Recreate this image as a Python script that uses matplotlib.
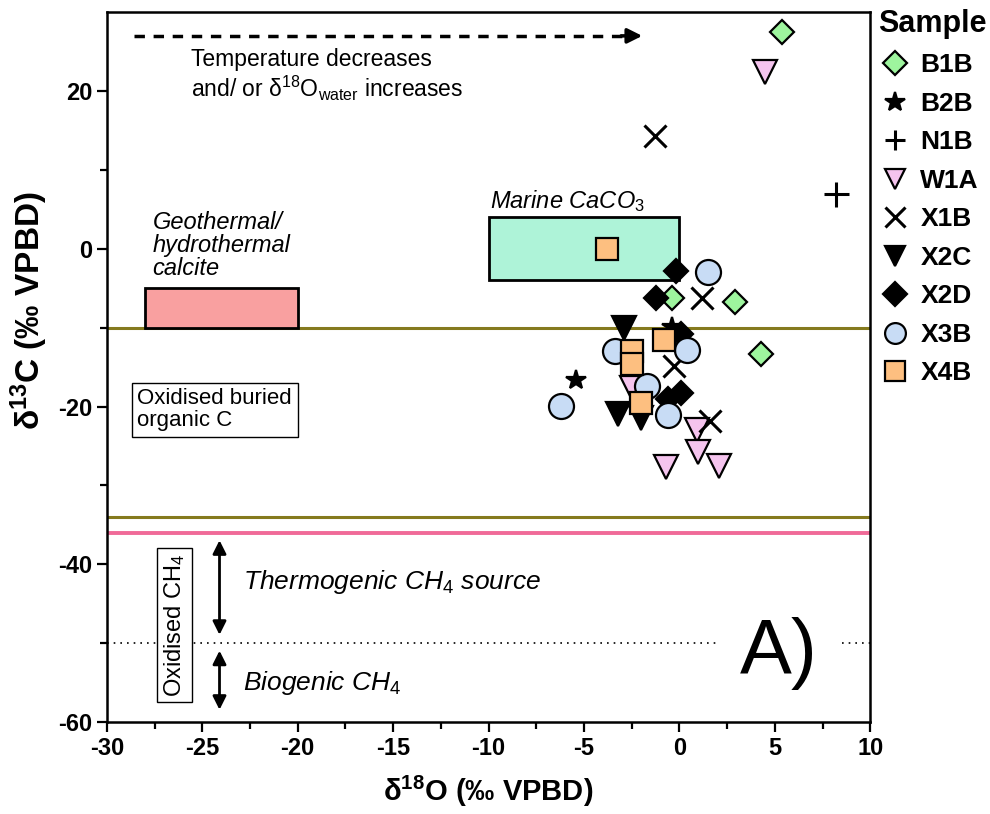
import matplotlib
matplotlib.use('Agg')
import matplotlib.pyplot as plt
from matplotlib.patches import Rectangle

plt.rcParams['font.family'] = ['Liberation Sans', 'DejaVu Sans']
plt.rcParams['mathtext.fontset'] = 'custom'
plt.rcParams['mathtext.rm'] = 'Liberation Sans'
plt.rcParams['mathtext.it'] = 'Liberation Sans:italic'
plt.rcParams['mathtext.bf'] = 'Liberation Sans:bold'
plt.rcParams['axes.unicode_minus'] = False

# sample data (d18O, d13C)
b1b_x = [5.4, -0.4, 2.9, 4.3]
b1b_y = [27.5, -6.3, -6.8, -13.3]
b2b_x = [-5.4, -0.4]
b2b_y = [-16.6, -9.9]
n1b_x = [8.2]
n1b_y = [6.9]
w1a_x = [4.5, -2.5, 0.9, 1.0, 2.1, -0.7]
w1a_y = [22.4, -17.6, -23.0, -25.8, -27.5, -27.7]
x1b_x = [-1.3, 1.2, -0.3, 1.6]
x1b_y = [14.3, -6.3, -14.8, -21.8]
x2c_x = [-2.9, -3.2, -2.0]
x2c_y = [-10.1, -21.0, -21.4]
x2d_x = [-0.2, -1.2, 0.1, -0.6, 0.1]
x2d_y = [-2.8, -6.2, -18.3, -19.0, -10.8]
x3b_x = [1.5, -3.4, 0.4, -6.2, -1.7, -0.6]
x3b_y = [-3.0, -12.9, -12.8, -19.9, -17.4, -21.1]
x4b_x = [-3.8, -0.8, -2.5, -2.5, -2.0]
x4b_y = [0.0, -11.6, -12.9, -14.6, -19.5]

samples = ['B1B', 'B2B', 'N1B', 'W1A', 'X1B', 'X2C', 'X2D', 'X3B', 'X4B']
xs = [b1b_x, b2b_x, n1b_x, w1a_x, x1b_x, x2c_x, x2d_x, x3b_x, x4b_x]
ys = [b1b_y, b2b_y, n1b_y, w1a_y, x1b_y, x2c_y, x2d_y, x3b_y, x4b_y]
markers = ['D', '*', '+', 'v', 'x', 'v', 'D', 'o', 's']
faces = ['#9ef59e', 'black', 'black', '#f5c4ee', 'black', 'black', 'black', '#c8dcf5', '#fdbf80']
sizes = [12, 15, 18, 17, 16, 17, 12, 18, 16]

fig = plt.figure(figsize=(9.9, 8.14), dpi=100)
ax = fig.add_axes([0.108, 0.113, 0.771, 0.872])

# boundary lines
ax.axhline(-10, color='#857a1e', lw=2.2, zorder=1)
ax.axhline(-34, color='#857a1e', lw=2.2, zorder=1)
ax.axhline(-36, color='#f06a98', lw=2.8, zorder=1)
ax.plot([-30, 1.9], [-50, -50], color='black', lw=1.2, ls=(0, (1, 3)), zorder=1)
ax.plot([8.5, 10], [-50, -50], color='black', lw=1.2, ls=(0, (1, 3)), zorder=1)

# fields
ax.add_patch(Rectangle((-28, -10), 8, 5, facecolor='#f9a0a0', edgecolor='black', lw=2, zorder=2))
ax.add_patch(Rectangle((-10, -4), 10, 8, facecolor='#aef3d8', edgecolor='black', lw=2, zorder=2))

ax.text(-27.6, -3.9, 'Geothermal/\nhydrothermal\ncalcite', style='italic', fontsize=17,
        va='bottom', ha='left', linespacing=1.0)
ax.text(-9.9, 4.4, 'Marine CaCO$_\\mathit{3}$', style='italic', fontsize=17, va='bottom', ha='left')

# temperature arrow
ax.plot([-28.6, -3.0], [27, 27], color='black', lw=2.5, ls=(0, (3, 2.5)), zorder=2)
ax.annotate('', xy=(-1.8, 27), xytext=(-3.2, 27),
            arrowprops=dict(arrowstyle='-|>', color='black', lw=2.5, mutation_scale=22))
ax.text(-25.6, 22.0, 'Temperature decreases\nand/ or δ$^{18}$O$_{\\mathrm{water}}$ increases',
        fontsize=16.5, va='center', ha='left', linespacing=1.15)

ax.text(-28.4, -20.4, 'Oxidised buried\norganic C', fontsize=16, va='center', ha='left',
        linespacing=1.05, bbox=dict(boxstyle='square,pad=0.25', fc='white', ec='black', lw=1))

# methane source arrows
ax.annotate('', xy=(-24.1, -36.6), xytext=(-24.1, -49.3),
            arrowprops=dict(arrowstyle='<|-|>', color='black', lw=2, mutation_scale=20))
ax.annotate('', xy=(-24.1, -50.6), xytext=(-24.1, -58.8),
            arrowprops=dict(arrowstyle='<|-|>', color='black', lw=2, mutation_scale=20))
ax.text(-22.85, -42.3, 'Thermogenic CH$_\\mathit{4}$ source', style='italic', fontsize=19,
        va='center', ha='left')
ax.text(-22.85, -55.1, 'Biogenic CH$_\\mathit{4}$', style='italic', fontsize=19,
        va='center', ha='left')
ax.text(-26.45, -47.7, 'Oxidised CH$_4$', rotation=90, fontsize=17, va='center', ha='center',
        bbox=dict(boxstyle='square,pad=0.2', fc='white', ec='black', lw=1))

ax.text(5.2, -51.3, 'A)', fontsize=56, va='center', ha='center', zorder=3)

for name, x, y, m, fc, s in zip(samples, xs, ys, markers, faces, sizes):
    if m in ['+', 'x']:
        ax.plot(x, y, ls='none', marker=m, ms=s, color='black', mew=2.2, label=name, zorder=4)
    else:
        ax.plot(x, y, ls='none', marker=m, ms=s, mfc=fc, mec='black', mew=1.6, label=name, zorder=4)

ax.set_xlim(-30, 10)
ax.set_ylim(-60, 30)
ax.set_xticks(range(-30, 11, 5))
ax.set_xticks([v + 2.5 for v in range(-30, 10, 5)], minor=True)
ax.set_yticks([-60, -40, -20, 0, 20])
ax.set_yticks([-50, -30, -10, 10], minor=True)
ax.tick_params(which='major', direction='out', length=7, width=1.6, labelsize=17)
ax.tick_params(which='minor', direction='out', length=5, width=1.6)
for lab in ax.get_xticklabels() + ax.get_yticklabels():
    lab.set_fontweight('bold')
for sp in ax.spines.values():
    sp.set_linewidth(1.8)

ax.set_xlabel('δ$^{\\mathbf{18}}$O (‰ VPBD)', fontsize=21, fontweight='bold', labelpad=10)
ax.set_ylabel('δ$^{\\mathbf{13}}$C (‰ VPBD)', fontsize=24, fontweight='bold')
ax.yaxis.set_label_coords(-0.075, 0.58)

leg = ax.legend(loc='upper left', bbox_to_anchor=(1.0, 1.016), frameon=False,
                title='Sample', fontsize=19, labelspacing=0.55, handletextpad=0.3,
                handlelength=1.3, borderaxespad=0.1, borderpad=0.2, alignment='left')
leg.get_title().set_fontweight('bold')
leg.get_title().set_fontsize(22)
for t in leg.get_texts():
    t.set_fontweight('bold')
for h in leg.legend_handles:
    h.set_markersize(min(h.get_markersize(), 15))

fig.savefig('out.png', dpi=100)
